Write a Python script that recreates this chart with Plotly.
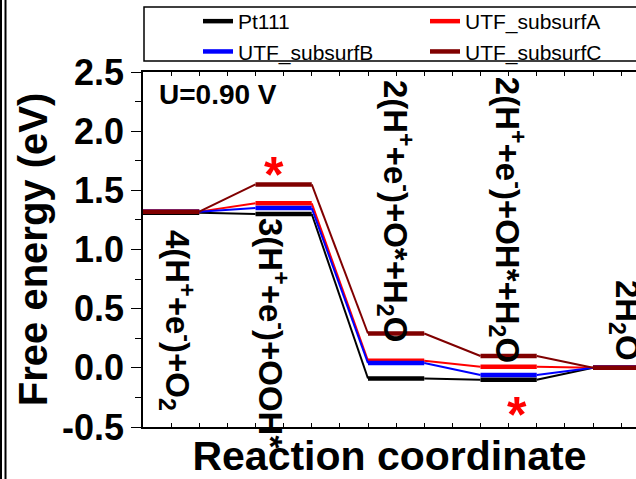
import plotly.graph_objects as go

# ---------------- data ----------------
steps = [0, 1, 2, 3, 4]
step_labels = [
    "4(H<sup>+</sup>+e<sup>-</sup>)+O<sub>2</sub>",
    "3(H<sup>+</sup>+e<sup>-</sup>)+OOH*",
    "2(H<sup>+</sup>+e<sup>-</sup>)+O*+H<sub>2</sub>O",
    "2(H<sup>+</sup>+e<sup>-</sup>)+OH*+H<sub>2</sub>O",
    "2H<sub>2</sub>O",
]
series_names = ["Pt111", "UTF_subsurfA", "UTF_subsurfB", "UTF_subsurfC"]
legend_column = ["legend", "legend2", "legend", "legend2"]
pt111 = [1.31, 1.30, -0.09, -0.10, 0.00]
subsurfA = [1.32, 1.39, 0.06, 0.01, 0.00]
subsurfB = [1.32, 1.35, 0.04, -0.06, 0.00]
subsurfC = [1.32, 1.55, 0.29, 0.10, 0.00]
potential_label = "U=0.90 V"
y_tickvals = [-0.5, 0.0, 0.5, 1.0, 1.5, 2.0, 2.5]
y_ticktext = ["-0.5", "0.0", "0.5", "1.0", "1.5", "2.0", "2.5"]

# label placement (x in reaction-coordinate units, y = top of label in eV)
label_x = [0.30, 1.15, 2.24, 3.24, 4.28]
label_top = [1.18, 1.28, 2.45, 2.48, 0.76]
star_x = [1.16, 3.32]
star_y = [1.63, -0.40]

colors = {"Pt111": "#000000", "UTF_subsurfA": "#ff0000",
          "UTF_subsurfB": "#0000ff", "UTF_subsurfC": "#800000"}
values = {"Pt111": pt111, "UTF_subsurfA": subsurfA,
          "UTF_subsurfB": subsurfB, "UTF_subsurfC": subsurfC}

FONT = "Liberation Sans, Arial, sans-serif"
PLATEAU = 0.5

fig = go.Figure()
for name, leg in zip(series_names, legend_column):
    e = values[name]
    cx, cy = [], []
    for i in range(len(steps) - 1):
        cx += [steps[i] + PLATEAU, steps[i + 1], None]
        cy += [e[i], e[i + 1], None]
    fig.add_trace(go.Scatter(x=cx, y=cy, mode="lines", showlegend=False,
                             line=dict(color=colors[name], width=2),
                             hoverinfo="skip"))
    px, py = [], []
    for i, s in enumerate(steps):
        px += [s, s + PLATEAU, None]
        py += [e[i], e[i], None]
    fig.add_trace(go.Scatter(x=px, y=py, mode="lines", name=name,
                             legend=leg,
                             line=dict(color=colors[name], width=4.5)))

W, H = 636, 479
L, R, T, B = 143, 0, 72, 52
pw, ph = W - L - R, H - T - B


def paper_x(px_):
    return (px_ - L) / pw


def paper_y(py_):
    return 1 + (T - py_) / ph


annotations = []
for xl, yt, txt in zip(label_x, label_top, step_labels):
    annotations.append(dict(x=xl, y=yt, xref="x", yref="y", text=txt,
                            textangle=90, showarrow=False,
                            xanchor="center", yanchor="top",
                            font=dict(family=FONT, size=33, color="black",
                                      weight="bold")))
for sx, sy in zip(star_x, star_y):
    annotations.append(dict(x=sx, y=sy, xref="x", yref="y", text="*",
                            showarrow=False, xanchor="center",
                            yanchor="middle",
                            font=dict(family=FONT, size=50, color="#ff0000",
                                      weight="bold")))
annotations.append(dict(x=0.124, y=2.31, xref="x", yref="y",
                        text=potential_label, showarrow=False,
                        xanchor="left", yanchor="middle",
                        font=dict(family=FONT, size=28, color="black",
                                  weight="bold")))

shapes = [
    dict(type="rect", xref="paper", yref="paper",
         x0=paper_x(144), x1=paper_x(645), y0=paper_y(61), y1=paper_y(7),
         line=dict(color="black", width=1.5), layer="above"),
    dict(type="line", xref="paper", yref="paper",
         x0=paper_x(1), x1=paper_x(1), y0=paper_y(H + 5), y1=paper_y(-5),
         line=dict(color="black", width=2)),
    dict(type="line", xref="paper", yref="paper",
         x0=paper_x(5.5), x1=paper_x(5.5), y0=paper_y(H + 5), y1=paper_y(-5),
         line=dict(color="black", width=2)),
]

legend_common = dict(orientation="h", xanchor="left", yanchor="top",
                     entrywidth=300, entrywidthmode="pixels",
                     font=dict(family=FONT, size=21, color="black"),
                     bgcolor="rgba(0,0,0,0)", borderwidth=0,
                     tracegroupgap=0, itemsizing="trace")

fig.update_layout(
    width=W, height=H,
    margin=dict(l=L, r=R, t=T, b=B, autoexpand=False),
    paper_bgcolor="white", plot_bgcolor="white",
    font=dict(family=FONT, color="black"),
    showlegend=True,
    legend=dict(x=paper_x(198), y=paper_y(1), **legend_common),
    legend2=dict(x=paper_x(425), y=paper_y(1), **legend_common),
    annotations=annotations,
    shapes=shapes,
)
fig.update_xaxes(range=[0, pw / 112.5], showgrid=False, zeroline=False,
                 showline=True, linecolor="black", linewidth=1.5,
                 mirror="allticks", ticks="inside", ticklen=4,
                 tickcolor="black", tick0=0, dtick=0.25,
                 showticklabels=False,
                 title=dict(text="Reaction coordinate", standoff=30,
                            font=dict(family=FONT, size=41, color="black",
                                      weight="bold")))
fig.update_yaxes(range=[-0.5, 2.5], showgrid=False, zeroline=False,
                 showline=True, linecolor="black", linewidth=1.5,
                 ticks="outside", ticklen=10, tickcolor="black",
                 tickvals=y_tickvals, ticktext=y_ticktext,
                 tickfont=dict(family=FONT, size=36, color="black",
                               weight="bold"),
                 minor=dict(dtick=0.25, ticks="outside", ticklen=6,
                            tickcolor="black"),
                 title=dict(text="Free energy (eV)", standoff=2,
                            font=dict(family=FONT, size=40, color="black",
                                      weight="bold")))

fig.write_html("out.html")
